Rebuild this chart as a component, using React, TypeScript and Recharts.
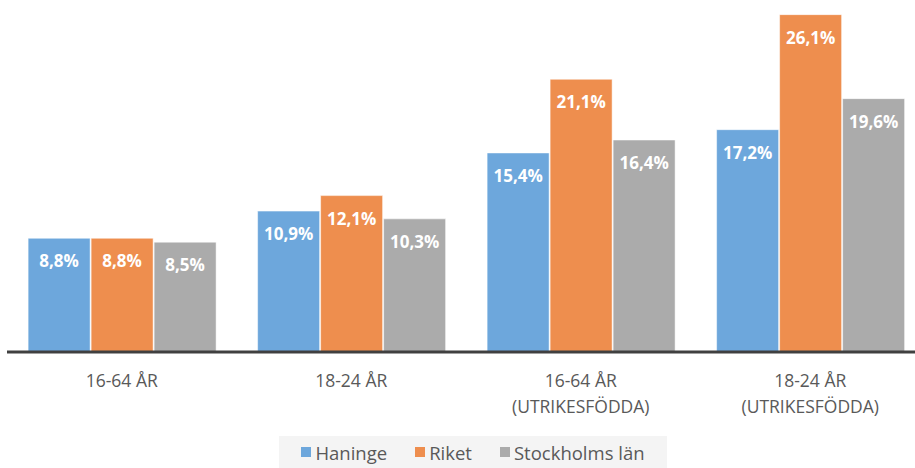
import React from "react";
import { BarChart, Bar, XAxis, YAxis, Legend, LabelList } from "recharts";

const categories = ["16-64 ÅR", "18-24 ÅR", "16-64 ÅR\n(UTRIKESFÖDDA)", "18-24 ÅR\n(UTRIKESFÖDDA)"];
const haninge = [8.8, 10.9, 15.4, 17.2];
const riket = [8.8, 12.1, 21.1, 26.1];
const stockholm = [8.5, 10.3, 16.4, 19.6];

const SERIES = [
  { key: "haninge", name: "Haninge", color: "#6DA7DC" },
  { key: "riket", name: "Riket", color: "#EE8E4E" },
  { key: "stockholm", name: "Stockholms län", color: "#ABABAB" },
];

const data = categories.map((c, i) => ({
  cat: c,
  haninge: haninge[i],
  riket: riket[i],
  stockholm: stockholm[i],
}));

const FONT = "'Open Sans', 'Noto Sans', sans-serif";
const fmt = (v: number) => `${v.toFixed(1).replace(".", ",")}%`;

function CatTick(props: any) {
  const { x, payload } = props;
  const lines = String(payload.value).split("\n");
  return (
    <g>
      {lines.map((l, i) => (
        <text
          key={i}
          x={x}
          y={387 + i * 26}
          textAnchor="middle"
          fontSize={17.5}
          fontFamily={FONT}
          fill="#595959"
        >
          {l}
        </text>
      ))}
    </g>
  );
}

function LegendBox() {
  return (
    <div
      style={{
        display: "flex",
        justifyContent: "center",
        alignItems: "center",
        gap: 28,
        width: 388,
        height: 32,
        marginLeft: 272,
        background: "#F4F4F4",
        fontFamily: FONT,
        fontSize: 18.5,
        color: "#595959",
      }}
    >
      {SERIES.map((s) => (
        <span key={s.key} style={{ display: "flex", alignItems: "center", gap: 4 }}>
          <span style={{ width: 10, height: 10, background: s.color, display: "inline-block" }} />
          {s.name}
        </span>
      ))}
    </div>
  );
}

export default function App() {
  return (
    <div style={{ position: "absolute", left: 0, top: 0, width: 915, height: 468, overflow: "hidden", background: "#fff" }}>
      <BarChart
        width={925}
        height={468}
        data={data}
        margin={{ top: 3, right: 0, left: 7, bottom: 0 }}
        barCategoryGap="9.2%"
        barGap={1}
      >
        <YAxis hide domain={[0, 27]} />
        <XAxis
          dataKey="cat"
          height={84}
          tick={<CatTick />}
          tickLine={false}
          axisLine={{ stroke: "#404040", strokeWidth: 3 }}
          interval={0}
        />
        <Legend
          verticalAlign="bottom"
          align="left"
          height={32}
          content={() => <LegendBox />}
        />
        {SERIES.map((s) => (
          <Bar
            key={s.key}
            dataKey={s.key}
            name={s.name}
            fill={s.color}
            stroke="#ffffff"
            strokeOpacity={0.5}
            strokeWidth={1}
            isAnimationActive={false}
          >
            <LabelList
              dataKey={s.key}
              position="insideTop"
              offset={17}
              formatter={(v: any) => fmt(Number(v))}
              style={{ fill: "#ffffff", fontWeight: 700, fontSize: 17, fontFamily: FONT }}
            />
          </Bar>
        ))}
      </BarChart>
    </div>
  );
}
